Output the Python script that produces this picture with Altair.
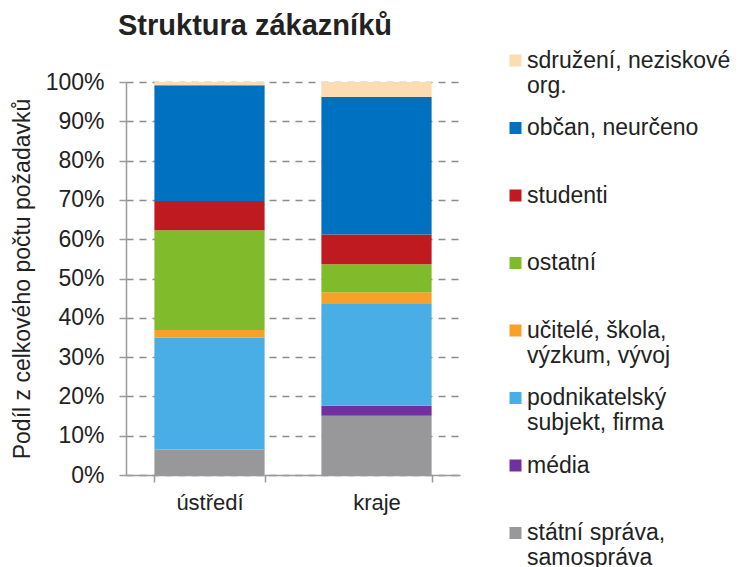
import altair as alt
import pandas as pd

# ---- data (stack order: bottom -> top) ----
categories = ["ústředí", "kraje"]
segments = [
    "státní správa,\nsamospráva",
    "média",
    "podnikatelský\nsubjekt, firma",
    "učitelé, škola,\nvýzkum, vývoj",
    "ostatní",
    "studenti",
    "občan, neurčeno",
    "sdružení, neziskové\norg.",
]
ustredi = [6.5, 0.0, 28.4, 2.0, 25.4, 7.4, 29.5, 0.8]
kraje = [15.1, 2.5, 25.9, 3.0, 7.1, 7.6, 35.0, 3.8]
colors = ["#98989a", "#7030a0", "#4aaee6", "#f7a12a", "#80bb2c", "#c01a21", "#0070c0", "#fcdcb3"]
y_ticks = [0, 0.1, 0.2, 0.3, 0.4, 0.5, 0.6, 0.7, 0.8, 0.9, 1.0]

rows = []
for cat, vals in zip(categories, [ustredi, kraje]):
    for i, (seg, v) in enumerate(zip(segments, vals)):
        rows.append({"oblast": cat, "segment": seg, "podil": v, "poradi": i})
df = pd.DataFrame(rows)

FONT = "Liberation Sans"
TXT = "#222222"
AXC = "#9a9a9a"

label_expr = ("length(split(datum.label, '\\n')) > 1 ? split(datum.label, '\\n') "
              ": [datum.label, '']")

chart = alt.Chart(df).mark_bar().encode(
    x=alt.X("oblast:N", sort=categories,
            scale=alt.Scale(paddingInner=0.34, paddingOuter=0.17),
            axis=alt.Axis(title=None, labelAngle=0, tickBand="extent", tickSize=7,
                          labelPadding=10, labelFontSize=22, labelFont=FONT,
                          labelColor=TXT, domainColor=AXC, tickColor=AXC,
                          domainWidth=1.5, tickWidth=1.5, grid=False)),
    y=alt.Y("podil:Q", stack="normalize",
            scale=alt.Scale(domain=[0, 1]),
            axis=alt.Axis(title="Podíl z celkového počtu požadavků", format=".0%",
                          values=y_ticks, tickSize=7, labelPadding=15,
                          labelFontSize=23, labelFont=FONT, labelColor=TXT,
                          titleFontSize=23, titleFont=FONT, titleFontWeight="normal",
                          titleColor=TXT, titlePadding=11,
                          grid=True, gridDash=[7, 6], gridColor="#8c8c8c", gridWidth=1.5,
                          domainColor=AXC, tickColor=AXC, domainWidth=1.5, tickWidth=1.5)),
    color=alt.Color("segment:N",
                    scale=alt.Scale(domain=segments[::-1], range=colors[::-1]),
                    legend=alt.Legend(title=None, orient="none", legendX=378, legendY=-33,
                                      direction="vertical", symbolType="square",
                                      symbolSize=144, symbolStrokeWidth=0,
                                      labelFontSize=23, labelFont=FONT, labelColor=TXT,
                                      labelBaseline="middle", labelOffset=0, labelLimit=400,
                                      rowPadding=18.5, padding=0, labelExpr=label_expr)),
    order=alt.Order("poradi:Q", sort="ascending"),
).properties(
    width=334,
    height=393,
    autosize=alt.AutoSizeParams(type="none"),
    padding={"left": 118, "top": 74, "right": 272, "bottom": 92},
    title=alt.TitleParams("Struktura zákazníků", fontSize=29, fontWeight="bold",
                          font=FONT, color=TXT, anchor="start", frame="group",
                          dx=-8, offset=8),
).configure(
    style={"guide-label": {"lineHeight": 25}}
).configure_view(stroke=None)

chart.save("out.html", embed_options={"renderer": "svg", "actions": False})
